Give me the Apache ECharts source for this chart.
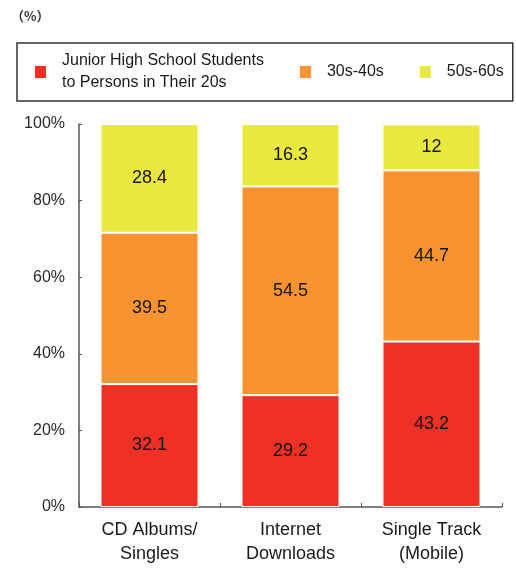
<!DOCTYPE html>
<html>
<head>
<meta charset="utf-8">
<script src="https://cdn.jsdelivr.net/npm/echarts@6/dist/echarts.min.js"></script>
<style>html,body{margin:0;padding:0;background:#fff}#c{width:516px;height:574px}</style>
</head>
<body>
<div id="c"></div>
<script>
var categories = ['CD Albums/\nSingles', 'Internet\nDownloads', 'Single Track\n(Mobile)'];
var seriesNames = ['Junior High School Students\nto Persons in Their 20s', '30s-40s', '50s-60s'];
var youngValues = [32.1, 29.2, 43.2];
var middleValues = [39.5, 54.5, 44.7];
var olderValues = [28.4, 16.3, 12];
var yTicks = [0, 20, 40, 60, 80, 100];
var colors = ['#ee3124', '#f7942f', '#e9e83f'];

var chart = echarts.init(document.getElementById('c'), null, {renderer: 'canvas'});
function mk(name, data, color) {
  return {
    name: name, type: 'bar', stack: 'total', data: data, barWidth: 98,
    itemStyle: {color: color, borderColor: '#fff', borderWidth: 1},
    label: {show: true, position: 'inside', fontSize: 18, color: '#151515', fontFamily: 'Liberation Sans, Arial, sans-serif'}
  };
}
chart.setOption({
  animation: false,
  color: colors,
  textStyle: {fontFamily: 'Liberation Sans, Arial, sans-serif'},
  title: {text: '（%）', left: 6, top: 5, textStyle: {fontSize: 13, fontWeight: 'bold', color: '#333', fontFamily: 'Noto Sans CJK JP, sans-serif'}},
  legend: {
    left: 17, top: 43, width: 474,
    padding: [7, 9, 7, 16],
    borderColor: '#333', borderWidth: 1.5,
    itemWidth: 13, itemHeight: 14, itemGap: 34,
    icon: 'rect',
    textStyle: {fontSize: 16, lineHeight: 22, color: '#1a1a1a', padding: [0, 0, 0, 10]},
    data: seriesNames
  },
  grid: {left: 79, top: 124, right: 14, bottom: 67},
  xAxis: {
    type: 'category', data: categories,
    axisLine: {lineStyle: {color: '#555', width: 1.5}},
    axisTick: {show: true, inside: true, length: 4, alignWithLabel: false, lineStyle: {color: '#555'}},
    axisLabel: {fontSize: 18, lineHeight: 24, color: '#1a1a1a', margin: 11}
  },
  yAxis: {
    type: 'value', min: yTicks[0], max: yTicks[yTicks.length - 1], interval: 20,
    axisLine: {show: true, lineStyle: {color: '#555', width: 1.5}},
    axisTick: {show: true, inside: true, length: 3, lineStyle: {color: '#555'}},
    splitLine: {show: false},
    axisLabel: {fontSize: 16, color: '#2a2a2a', margin: 14, formatter: '{value}%'}
  },
  series: [
    mk(seriesNames[0], youngValues, colors[0]),
    mk(seriesNames[1], middleValues, colors[1]),
    mk(seriesNames[2], olderValues, colors[2])
  ]
});
</script>
</body>
</html>
